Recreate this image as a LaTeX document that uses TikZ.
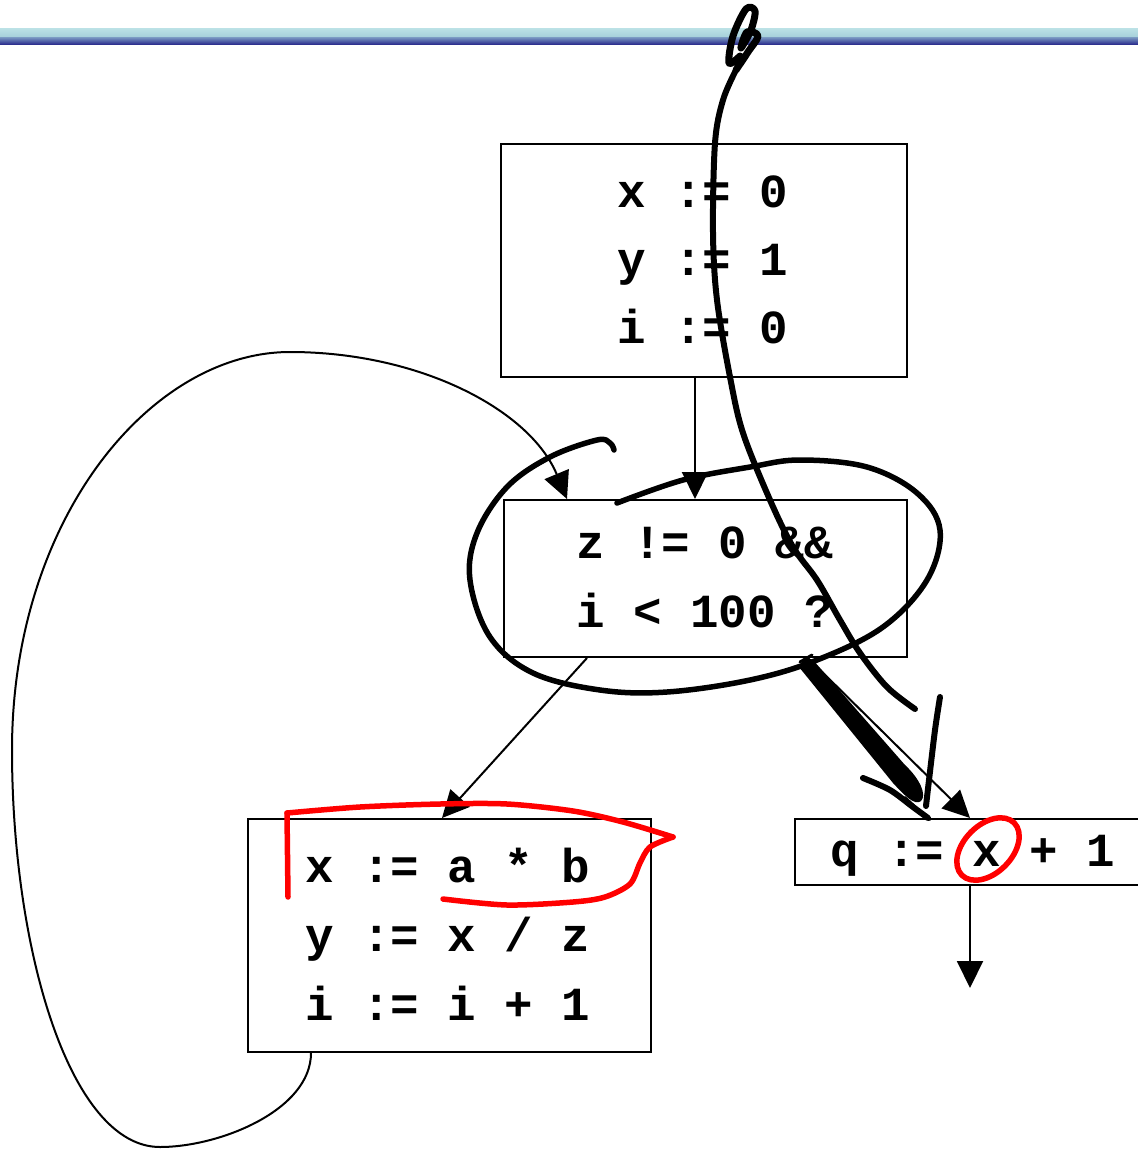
\documentclass[tikz,border=0pt]{standalone}
\usepackage{fontspec}
\setmonofont{Liberation Mono}
\usetikzlibrary{arrows.meta}
\newcommand\mycodefont{\fontsize{47.5}{57}\selectfont\ttfamily\bfseries}
\definecolor{barlight}{HTML}{BCE2E6}
\definecolor{barlight2}{HTML}{A6D0DA}
\definecolor{barmid}{HTML}{7C9CC4}
\definecolor{bardark}{HTML}{2E318F}
\begin{document}
\begin{tikzpicture}[x=1pt,y=-1pt,
  box/.style={draw, line width=2pt, inner sep=0pt, anchor=north west},
  code/.style={anchor=base west, inner sep=0pt, font=\mycodefont},
  flow/.style={line width=2pt, -{Triangle[width=26pt,length=27pt]}},
  hand/.style={line width=6pt, line cap=round, line join=round},
  redhand/.style={hand, draw=red, line width=5.5pt}]
\useasboundingbox (0,0) rectangle (1138,1149);
% top bar
\shade[top color=barlight, bottom color=barlight2] (0,28) rectangle (1138,37);
\shade[top color=barmid, bottom color=bardark] (0,37) rectangle (1138,44);

% boxes
\node[box, minimum width=406pt, minimum height=233pt] (b1) at (500,143) {};
\node[box, minimum width=403pt, minimum height=157pt] (b2) at (503,499) {};
\node[box, minimum width=403pt, minimum height=233pt] (b3) at (247,818) {};
\node[box, minimum width=360pt, minimum height=66pt] (b4) at (794,818) {};

% code text
\node[code] (t1) at (617,207) {x := 0};
\node[code] (t2) at (617,275) {y := 1};
\node[code] (t3) at (617,343) {i := 0};
\node[code] (t4) at (576,558) {z != 0 \&\&};
\node[code] (t5) at (576,627) {i < 100 ?};
\node[code] (t6) at (305,882) {x := a * b};
\node[code] (t7) at (305,951) {y := x / z};
\node[code] (t8) at (305,1020) {i := i + 1};
\node[code] (t9) at (830,866) {q := x + 1};

% flow arrows
\coordinate (out) at (970,988);
\draw[flow] ([xshift=-9pt]b1.south) -- ([xshift=-10.5pt]b2.north);
\draw[flow] ([xshift=84pt]b2.south west) -- ([xshift=195pt]b3.north west);
\draw[flow] ([xshift=-100pt]b2.south east) -- ([xshift=176pt]b4.north west);
\draw[flow] ([xshift=176pt]b4.south west) -- (out);
\draw[flow] ([xshift=64pt]b3.south west)
   .. controls (311,1110) and (220,1147) .. (160,1147)
   .. controls (70,1147) and (12,950) .. (12,750)
   .. controls (12,520) and (150,352) .. (290,352)
   .. controls (420,352) and (530,410) .. ([xshift=64pt]b2.north west);

% hand-drawn black annotations
\draw[hand, line width=7pt] plot[smooth, tension=0.55] coordinates {(740,56) (729,63) (733,36) (746,9) (755,11) (751,30) (741,48) (747,32) (758,36) (748,52) (736,70)};
\draw[hand] plot[smooth, tension=0.55] coordinates {(736,70) (723,100) (715,143) (713,233) (717,300) (730,377) (743,433) (770,500) (793,547) (817,580) (840,620) (860,653) (887,687) (915,709)};
\draw[hand, line width=5.5pt] plot[smooth, tension=0.6] coordinates {(617,503) (683,480) (750,467) (800,460) (867,467) (917,493) (940,530) (927,580) (883,627) (817,660) (750,680) (667,692) (600,690) (533,673) (490,637) (470,580) (477,533) (507,487) (550,457) (597,440) (610,443) (614,450)};
\fill (799,667) -- (805,657) -- (813,660) -- (905,765) .. controls (920,779) and (927,795) .. (921,801) .. controls (915,806) and (905,796) .. (893,783) -- cycle;
\draw[hand, line width=3pt] (800,662) -- (812,655);
\draw[hand, line width=2pt] (905,797) -- (930,820);
\draw[hand] plot[smooth] coordinates {(940,697) (935,730) (929,780) (926,806)};
\draw[hand] plot[smooth] coordinates {(863,778) (890,790) (913,807) (928,818)};

% red annotations
\draw[redhand] (288,897) -- (287,813);
\draw[redhand] plot[smooth, tension=0.5] coordinates {(287,813) (360,807) (440,804) (507,804) (573,811) (623,822) (673,837)};
\draw[redhand] plot[smooth, tension=0.5] coordinates {(673,837) (650,847) (640,863) (630,884) (605,897) (573,902) (507,905) (443,899)};
\draw[redhand, rotate around={45:(988,849)}] (988,849) ellipse [x radius=37pt, y radius=24pt];
\end{tikzpicture}
\end{document}
